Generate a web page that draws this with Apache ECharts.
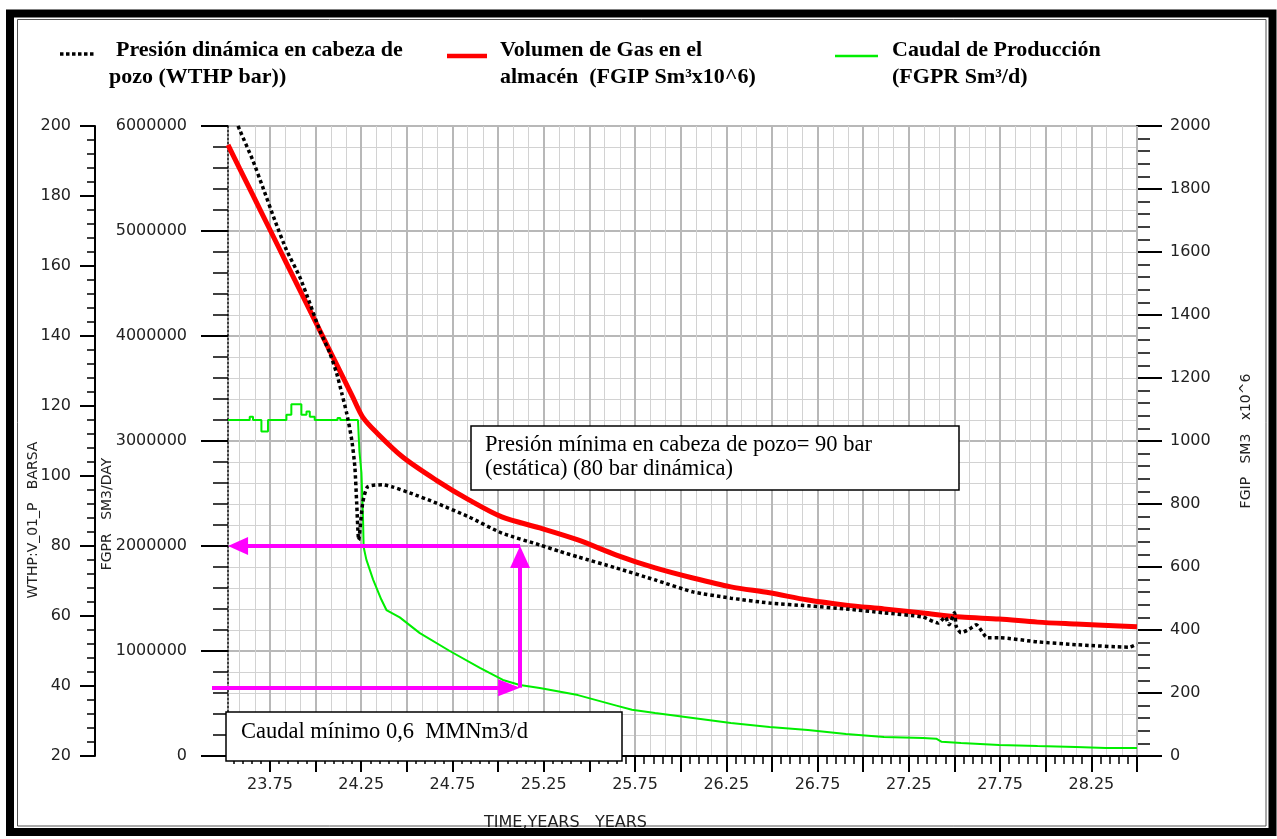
<!DOCTYPE html>
<html>
<head>
<meta charset="utf-8">
<title>Presión, volumen de gas y caudal</title>
<script src="https://cdn.jsdelivr.net/npm/echarts@6.0.0/dist/echarts.min.js"></script>
<style>
  html, body { margin: 0; padding: 0; background: #fff; }
  #chart { width: 1277px; height: 839px; }
</style>
</head>
<body>
<div id="chart"></div>
<script>
// Presión dinámica en cabeza de pozo (bar) - eje izquierdo exterior
const wthpYears = [23.52, 23.584, 23.655, 23.71, 23.776, 23.84, 23.913, 23.968, 24.022, 24.077,
  24.115, 24.143, 24.17, 24.198, 24.215, 24.225, 24.236, 24.258, 24.285, 24.367,
  24.42, 24.515, 24.66, 24.84, 25.02, 25.228, 25.34, 25.437, 25.648, 25.86,
  26.067, 26.275, 26.487, 26.697, 26.906, 27.114, 27.327, 27.41, 27.45, 27.47,
  27.50, 27.51, 27.536, 27.58, 27.62, 27.68, 27.745, 27.955, 28.165, 28.458, 28.5];
const wthpBar = [206.9, 198.9, 190.3, 182.6, 173.1, 164.6, 156.9, 149.4, 141.7, 135.2,
  129.4, 123.7, 118.0, 110.3, 102.6, 92.3, 81.7, 92.3, 96.9, 97.5,
  96.9, 95.2, 92.3, 88.3, 83.7, 80.3, 78.4, 76.9, 73.7, 70.3,
  66.9, 65.1, 63.7, 62.9, 62.0, 60.9, 59.7, 58.0, 59.7, 57.5,
  60.9, 57.0, 55.2, 56.2, 57.5, 53.8, 53.8, 52.6, 51.8, 51.1, 52.0];

// Volumen de gas en el almacén (Sm3 x10^6) - eje derecho
const fgipYears = [23.52, 23.584, 23.655, 23.748, 23.84, 23.93, 24.022, 24.115, 24.203, 24.258,
  24.335, 24.477, 24.66, 24.84, 25.02, 25.228, 25.437, 25.648, 25.86, 26.067,
  26.275, 26.487, 26.697, 26.906, 27.114, 27.327, 27.536, 27.745, 27.955, 28.165, 28.5];
const fgipVol = [1940, 1865, 1782, 1673, 1565, 1460, 1352, 1243, 1140, 1076,
  1026, 949, 876, 813, 759, 724, 686, 638, 597, 565,
  537, 518, 495, 479, 467, 454, 441, 435, 425, 419, 410];

// Caudal de producción (Sm3/d) - eje izquierdo interior
const fgprYears = [23.52, 23.639, 23.639, 23.657, 23.657, 23.703, 23.703, 23.739, 23.739, 23.84,
  23.84, 23.867, 23.867, 23.922, 23.922, 23.95, 23.95, 23.968, 23.968, 23.995,
  23.995, 24.12, 24.12, 24.135, 24.135, 24.232, 24.24, 24.251, 24.26, 24.263,
  24.278, 24.315, 24.36, 24.388, 24.461, 24.571, 24.735, 24.9, 25.026, 25.119,
  25.228, 25.437, 25.648, 25.733, 25.86, 26.067, 26.275, 26.487, 26.697, 26.906,
  27.114, 27.327, 27.40, 27.43, 27.536, 27.745, 27.955, 28.165, 28.33, 28.5];
const fgprRate = [3200000, 3200000, 3230000, 3230000, 3200000, 3200000, 3090000, 3090000, 3200000, 3200000,
  3250000, 3250000, 3350000, 3350000, 3250000, 3250000, 3280000, 3280000, 3230000, 3230000,
  3200000, 3200000, 3220000, 3220000, 3200000, 3200000, 2900000, 2700000, 2250000, 1990000,
  1870000, 1680000, 1490000, 1390000, 1320000, 1170000, 1000000, 840000, 724000, 676000,
  648000, 580000, 480000, 440000, 410000, 362000, 314000, 276000, 248000, 210000,
  181000, 171000, 165000, 135000, 124000, 105000, 95000, 86000, 76000, 76000];

// eje de tiempo
const quarterTicks = [23.75, 24, 24.25, 24.5, 24.75, 25, 25.25, 25.5, 25.75, 26, 26.25, 26.5,
  26.75, 27, 27.25, 27.5, 27.75, 28, 28.25, 28.5];
const yearLabels = [23.75, 24.25, 24.75, 25.25, 25.75, 26.25, 26.75, 27.25, 27.75, 28.25];

const minorTicks = [];
for (let i = 471; i <= 570; i++) minorTicks.push(+(i * 0.05).toFixed(2));
const monthLines = [];
for (let k = 283; k <= 342; k++) monthLines.push(k / 12);

const zip = (xs, ys) => xs.map((x, i) => [x, ys[i]]);

const SANS = 'DejaVu Sans';
const SERIF = 'Liberation Serif';
const X_MIN = 23.52, X_MAX = 28.5;

const chart = echarts.init(document.getElementById('chart'));

const option = {
  animation: false,
  backgroundColor: '#fff',
  grid: { left: 228, right: 140, top: 126, bottom: 83, outerBoundsMode: 'none' },
  xAxis: [
    {
      type: 'value', min: X_MIN, max: X_MAX, position: 'bottom', z: 1,
      axisLine: { onZero: false, lineStyle: { color: '#000', width: 2 } },
      axisTick: { customValues: quarterTicks, length: 16, lineStyle: { color: '#000', width: 2 } },
      axisLabel: {
        customValues: yearLabels, margin: 21, fontFamily: SANS, fontSize: 16, color: '#222',
        formatter: v => v.toFixed(2)
      },
      splitLine: { show: true, lineStyle: { color: '#b8b8b8', width: 2 } },
      name: 'TIME,YEARS   YEARS', nameLocation: 'middle', nameGap: 59,
      nameTextStyle: { fontFamily: SANS, fontSize: 16, color: '#222', padding: [0, 234, 0, 0] }
    },
    {
      type: 'value', min: X_MIN, max: X_MAX, position: 'bottom', z: 1,
      axisLine: { show: false, onZero: false },
      axisTick: { customValues: minorTicks, length: 8, lineStyle: { color: '#000', width: 1.5 } },
      axisLabel: { show: false },
      splitLine: { show: false }
    },
    {
      type: 'value', min: X_MIN, max: X_MAX, position: 'bottom', z: 0,
      axisLine: { show: false, onZero: false },
      axisTick: { show: false, customValues: monthLines },
      axisLabel: { show: false },
      splitLine: { show: true, lineStyle: { color: '#d2d2d2', width: 1 } }
    }
  ],
  yAxis: [
    {
      type: 'value', position: 'left', offset: 133, min: 20, max: 200, interval: 20,
      name: 'WTHP:V_01_P   BARSA', nameLocation: 'middle', nameGap: 55, nameRotate: 90,
      nameMoveOverlap: false,
      nameTextStyle: { fontFamily: SANS, fontSize: 14, color: '#222', padding: [0, 158, 0, 0] },
      axisLine: { show: true, onZero: false, lineStyle: { color: '#000', width: 2 } },
      axisTick: { show: true, length: 15, lineStyle: { color: '#000', width: 2 } },
      minorTick: { show: true, splitNumber: 5, length: 8, lineStyle: { color: '#000', width: 1.5 } },
      axisLabel: { margin: 24, fontFamily: SANS, fontSize: 16, color: '#222', formatter: v => String(v) },
      splitLine: { show: false }
    },
    {
      type: 'value', position: 'left', offset: 0, min: 0, max: 6000000, interval: 1000000,
      name: 'FGPR   SM3/DAY', nameLocation: 'middle', nameGap: 114, nameRotate: 90,
      nameMoveOverlap: false,
      nameTextStyle: { fontFamily: SANS, fontSize: 14, color: '#222', padding: [0, 146, 0, 0] },
      axisLine: { show: true, onZero: false, lineStyle: { color: '#000', width: 1.5, type: [2, 2] } },
      axisTick: { show: true, length: 27, lineStyle: { color: '#000', width: 2 } },
      minorTick: { show: true, splitNumber: 5, length: 15, lineStyle: { color: '#000', width: 1.5 } },
      axisLabel: { margin: 41, fontFamily: SANS, fontSize: 16, color: '#222', formatter: v => String(v) },
      splitLine: { show: true, lineStyle: { color: '#b8b8b8', width: 2 } },
      minorSplitLine: { show: true, lineStyle: { color: '#d2d2d2', width: 1 } }
    },
    {
      type: 'value', position: 'right', offset: 0, min: 0, max: 2000, interval: 200,
      name: 'FGIP   SM3   x10^6', nameLocation: 'middle', nameGap: 102, nameRotate: 90,
      nameMoveOverlap: false,
      nameTextStyle: { fontFamily: SANS, fontSize: 14, color: '#222' },
      axisLine: { show: true, onZero: false, lineStyle: { color: '#000', width: 2 } },
      axisTick: { show: true, length: 25, lineStyle: { color: '#000', width: 2 } },
      minorTick: { show: true, splitNumber: 5, length: 13, lineStyle: { color: '#000', width: 1.5 } },
      axisLabel: { margin: 33, fontFamily: SANS, fontSize: 16, color: '#222', formatter: v => String(v) },
      splitLine: { show: false }
    }
  ],
  series: [
    {
      name: 'Volumen de Gas en el almacén (FGIP Sm³x10^6)', type: 'line',
      xAxisIndex: 0, yAxisIndex: 2, data: zip(fgipYears, fgipVol),
      symbol: 'none', z: 3, smooth: 0.3,
      lineStyle: { color: '#ff0000', width: 5 }
    },
    {
      name: 'Caudal de Producción (FGPR Sm³/d)', type: 'line',
      xAxisIndex: 0, yAxisIndex: 1, data: zip(fgprYears, fgprRate),
      symbol: 'none', z: 4,
      lineStyle: { color: '#00ee00', width: 2 }
    },
    {
      name: 'Presión dinámica en cabeza de pozo (WTHP bar)', type: 'line',
      xAxisIndex: 0, yAxisIndex: 0, data: zip(wthpYears, wthpBar),
      symbol: 'none', z: 5, smooth: 0.2,
      lineStyle: { color: '#000', width: 3.5, type: [3.5, 3] }
    },
    {
      name: 'anotaciones', type: 'line', xAxisIndex: 0, yAxisIndex: 0, data: [],
      clip: false, z: 6,
      markLine: {
        silent: true,
        animation: false,
        symbol: ['none', 'triangle'],
        symbolSize: [18, 20],
        label: { show: false },
        emphasis: { disabled: true },
        itemStyle: { color: '#ff00ff' },
        lineStyle: { color: '#ff00ff', width: 4, type: 'solid' },
        data: [
          [{ coord: [25.12, 80] }, { coord: [23.575, 80] }],
          [{ coord: [25.12, 39.5] }, { coord: [25.12, 76.85], symbolSize: [20, 22] }],
          [{ x: 212, y: 688 }, { coord: [25.06, 39.5], symbolSize: [17, 22] }]
        ]
      }
    }
  ],
  graphic: [
    // marco
    { type: 'rect', z: 0, silent: true, shape: { x: 10, y: 13.5, width: 1262.5, height: 818.5 },
      style: { fill: 'none', stroke: '#000', lineWidth: 8 } },
    { type: 'rect', z: 0, silent: true, shape: { x: 17.5, y: 19.5, width: 1248.5, height: 806.5 },
      style: { fill: 'none', stroke: '#555', lineWidth: 1 } },
    // leyenda
    { type: 'line', z: 10, silent: true, shape: { x1: 60, y1: 54, x2: 94, y2: 54 },
      style: { stroke: '#000', lineWidth: 3.5, lineDash: [3.5, 2.5] } },
    { type: 'text', z: 10, silent: true, style: { text: 'Presión dinámica en cabeza de', x: 116, y: 50,
      fontFamily: SERIF, fontSize: 22, fontWeight: 'bold', fill: '#000', verticalAlign: 'middle' } },
    { type: 'text', z: 10, silent: true, style: { text: 'pozo (WTHP bar))', x: 109, y: 77,
      fontFamily: SERIF, fontSize: 22, fontWeight: 'bold', fill: '#000', verticalAlign: 'middle' } },
    { type: 'line', z: 10, silent: true, shape: { x1: 447, y1: 56, x2: 487, y2: 56 },
      style: { stroke: '#ff0000', lineWidth: 4.5 } },
    { type: 'text', z: 10, silent: true, style: { text: 'Volumen de Gas en el', x: 500, y: 50,
      fontFamily: SERIF, fontSize: 22, fontWeight: 'bold', fill: '#000', verticalAlign: 'middle' } },
    { type: 'text', z: 10, silent: true, style: { text: 'almacén  (FGIP Sm³x10^6)', x: 500, y: 77,
      fontFamily: SERIF, fontSize: 22, fontWeight: 'bold', fill: '#000', verticalAlign: 'middle' } },
    { type: 'line', z: 10, silent: true, shape: { x1: 835, y1: 56, x2: 878, y2: 56 },
      style: { stroke: '#00ee00', lineWidth: 2.5 } },
    { type: 'text', z: 10, silent: true, style: { text: 'Caudal de Producción', x: 892, y: 50,
      fontFamily: SERIF, fontSize: 22, fontWeight: 'bold', fill: '#000', verticalAlign: 'middle' } },
    { type: 'text', z: 10, silent: true, style: { text: '(FGPR Sm³/d)', x: 892, y: 77,
      fontFamily: SERIF, fontSize: 22, fontWeight: 'bold', fill: '#000', verticalAlign: 'middle' } },
    // cuadros de texto
    { type: 'rect', z: 100, silent: true, shape: { x: 471, y: 426, width: 488, height: 64 },
      style: { fill: '#fff', stroke: '#000', lineWidth: 1.5 } },
    { type: 'text', z: 101, silent: true, style: { text: 'Presión mínima en cabeza de pozo= 90 bar', x: 485, y: 445,
      fontFamily: SERIF, fontSize: 22.5, fill: '#000', verticalAlign: 'middle' } },
    { type: 'text', z: 101, silent: true, style: { text: '(estática) (80 bar dinámica)', x: 485, y: 469,
      fontFamily: SERIF, fontSize: 22.5, fill: '#000', verticalAlign: 'middle' } },
    { type: 'rect', z: 100, silent: true, shape: { x: 226, y: 712, width: 396, height: 49 },
      style: { fill: '#fff', stroke: '#000', lineWidth: 1.5 } },
    { type: 'text', z: 101, silent: true, style: { text: 'Caudal mínimo 0,6  MMNm3/d', x: 241, y: 732,
      fontFamily: SERIF, fontSize: 22.5, fill: '#000', verticalAlign: 'middle' } }
  ]
};

chart.setOption(option);
</script>
</body>
</html>
